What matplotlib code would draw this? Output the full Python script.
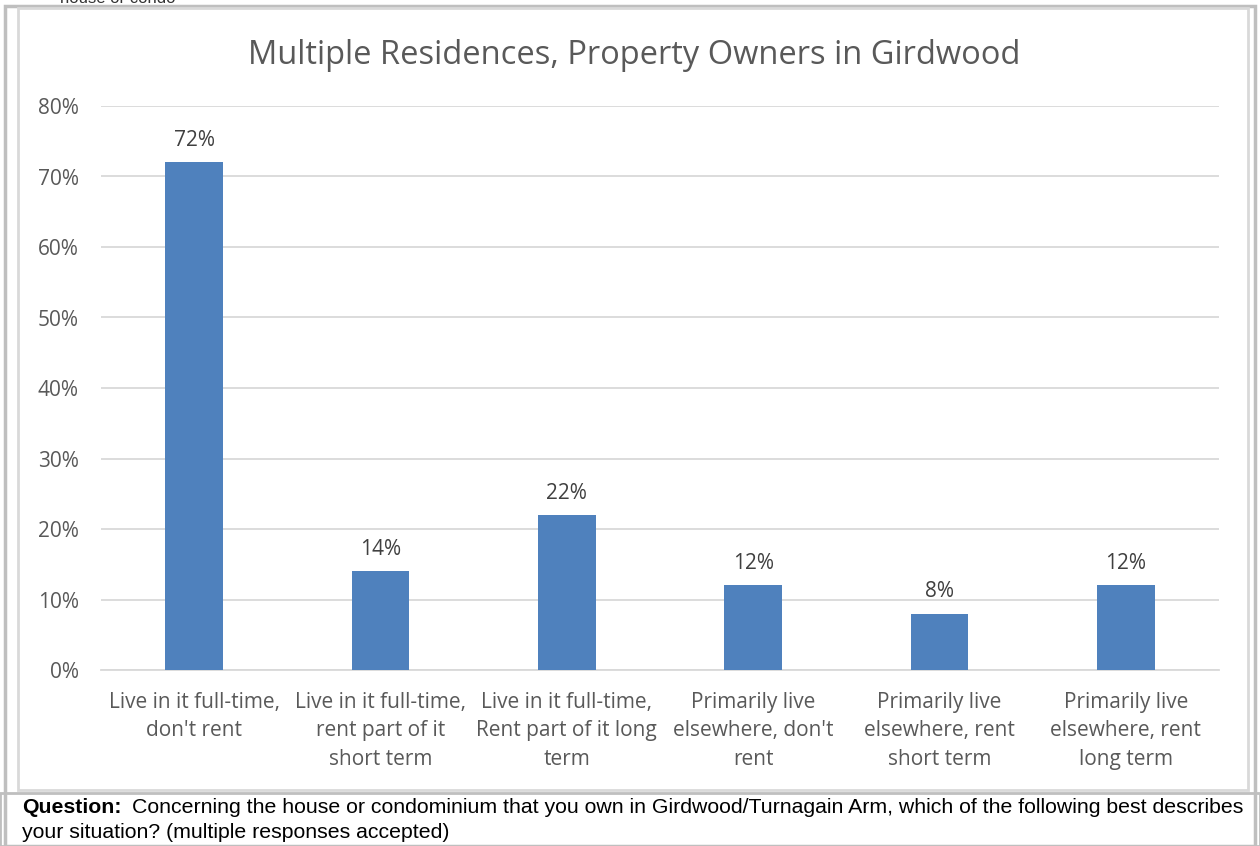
import matplotlib.pyplot as plt
from matplotlib.ticker import PercentFormatter
from matplotlib.patches import Rectangle

categories = ["Live in it full-time,\ndon't rent",
              "Live in it full-time,\nrent part of it\nshort term",
              "Live in it full-time,\nRent part of it long\nterm",
              "Primarily live\nelsewhere, don't\nrent",
              "Primarily live\nelsewhere, rent\nshort term",
              "Primarily live\nelsewhere, rent\nlong term"]
values = [72, 14, 22, 12, 8, 12]
yticks = [0, 10, 20, 30, 40, 50, 60, 70, 80]

plt.rcParams['font.family'] = ['Open Sans', 'DejaVu Sans']

W, H = 1260, 846
fig = plt.figure(figsize=(12.6, 8.46), dpi=100)

# outer frames
fig.patches.append(Rectangle((5/W, 0), 1250/W, 1 - 6/H, transform=fig.transFigure,
                             fill=False, edgecolor='#bfbfbf', linewidth=2.5))
fig.patches.append(Rectangle((18/W, 56/H), 1230/W, 1 - 8/H - 56/H, transform=fig.transFigure,
                             fill=False, edgecolor='#d9d9d9', linewidth=2))
fig.patches.append(Rectangle((0, 0), 1, 53/H, transform=fig.transFigure,
                             fill=False, edgecolor='#bfbfbf', linewidth=2))
# leftover text of the page above, cut off like in the scan
fig.text(60/W, 1 + 2/H, "house or condo", fontsize=12, color='#333333', va='center',
         family=['Liberation Sans'])

ax = fig.add_axes([101/W, 1 - 670/H, 1118/W, (670 - 106)/H])
x = range(len(categories))
ax.bar(x, values, width=0.31, color='#4f81bd', zorder=3)
for i, v in zip(x, values):
    ax.text(i, v + 1.6, f"{v}%", ha='center', va='bottom', fontsize=15, color='#404040')

ax.set_xlim(-0.5, len(categories) - 0.5)
ax.set_ylim(0, 80)
ax.set_yticks(yticks)
ax.yaxis.set_major_formatter(PercentFormatter(decimals=0))
ax.set_xticks(list(x))
ax.set_xticklabels(categories, fontsize=15, color='#595959', linespacing=1.45)
ax.tick_params(axis='y', labelsize=15, labelcolor='#595959', length=0, pad=16)
ax.tick_params(axis='x', length=0, pad=16)
ax.grid(axis='y', color='#d9d9d9', linewidth=1.3, zorder=0)
for s in ['top', 'right', 'left']:
    ax.spines[s].set_visible(False)
ax.spines['bottom'].set_color('#d9d9d9')
ax.spines['bottom'].set_linewidth(1.3)

fig.text(634/W, 1 - 56/H, "Multiple Residences, Property Owners in Girdwood",
         ha='center', va='center', fontsize=23.5, color='#595959')

# question box
q = fig.text(22/W, 1 - 807/H, "Question:", fontsize=15.3, fontweight='bold', va='center',
             family=['Liberation Sans'])
fig.canvas.draw()
bb = q.get_window_extent()
fig.text(bb.x1/W + 10/W, 1 - 807/H,
         "Concerning the house or condominium that you own in Girdwood/Turnagain Arm, which of the following best describes",
         fontsize=15.3, va='center', family=['Liberation Sans'])
fig.text(22/W, 1 - 832/H, "your situation? (multiple responses accepted)",
         fontsize=15.3, va='center', family=['Liberation Sans'])

plt.savefig('out.png', dpi=100)
